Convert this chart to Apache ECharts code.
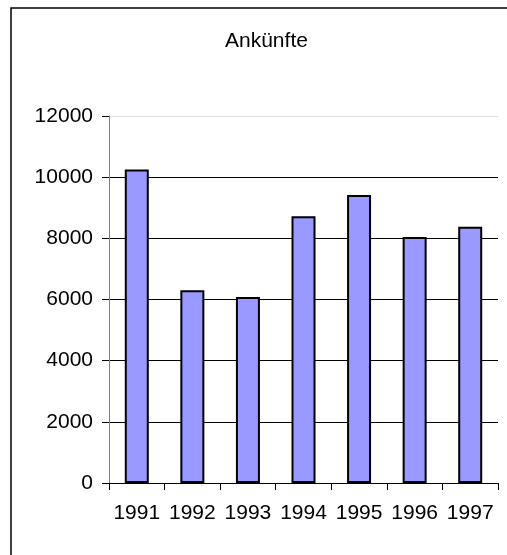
<!DOCTYPE html>
<html>
<head>
<meta charset="utf-8">
<script src="https://cdn.jsdelivr.net/npm/echarts@6/dist/echarts.min.js"></script>
<style>
  html, body { margin: 0; padding: 0; background: #fff; }
  #chart { width: 507px; height: 555px; }
</style>
</head>
<body>
<div id="chart"></div>
<script>
const years = ['1991', '1992', '1993', '1994', '1995', '1996', '1997']
const arrivals = [10250, 6300, 6080, 8720, 9420, 8040, 8380]
const yMin = 0
const yMax = 12000
const yStep = 2000

const chart = echarts.init(document.getElementById('chart'))
const option = {
  backgroundColor: '#fff',
  animation: false,
  title: {
    text: 'Ankünfte',
    left: 220,
    top: 26,
    textStyle: {
      fontFamily: 'Liberation Sans, Arial, sans-serif',
      fontSize: 21,
      fontWeight: 'normal',
      color: '#000'
    }
  },
  graphic: [
    {
      type: 'rect',
      shape: { x: 11, y: 8, width: 560, height: 600 },
      style: { fill: 'none', stroke: '#000', lineWidth: 1.5 }
    }
  ],
  grid: { left: 109, top: 116, right: 9, bottom: 72 },
  xAxis: {
    type: 'category',
    data: years,
    axisLine: { lineStyle: { color: '#000', width: 1 } },
    axisTick: { show: true, length: 7, lineStyle: { color: '#000' } },
    axisLabel: {
      interval: 0,
      margin: 20,
      fontFamily: 'Liberation Sans, Arial, sans-serif',
      fontSize: 21,
      color: '#000'
    }
  },
  yAxis: {
    type: 'value',
    min: yMin,
    max: yMax,
    interval: yStep,
    axisLine: { show: true, lineStyle: { color: '#808080', width: 1 } },
    axisTick: { show: true, length: 7, lineStyle: { color: '#000' } },
    axisLabel: {
      margin: 16,
      formatter: v => String(v),
      fontFamily: 'Liberation Sans, Arial, sans-serif',
      fontSize: 21,
      color: '#000'
    },
    splitLine: {
      show: true,
      lineStyle: { color: ['#000', '#000', '#000', '#000', '#000', '#000', '#ddd'], width: 1 }
    }
  },
  series: [
    {
      name: 'Ankünfte',
      type: 'bar',
      data: arrivals,
      barWidth: 24,
      itemStyle: { color: '#9999ff', borderColor: '#000', borderWidth: 2 }
    }
  ]
}
chart.setOption(option)
</script>
</body>
</html>
